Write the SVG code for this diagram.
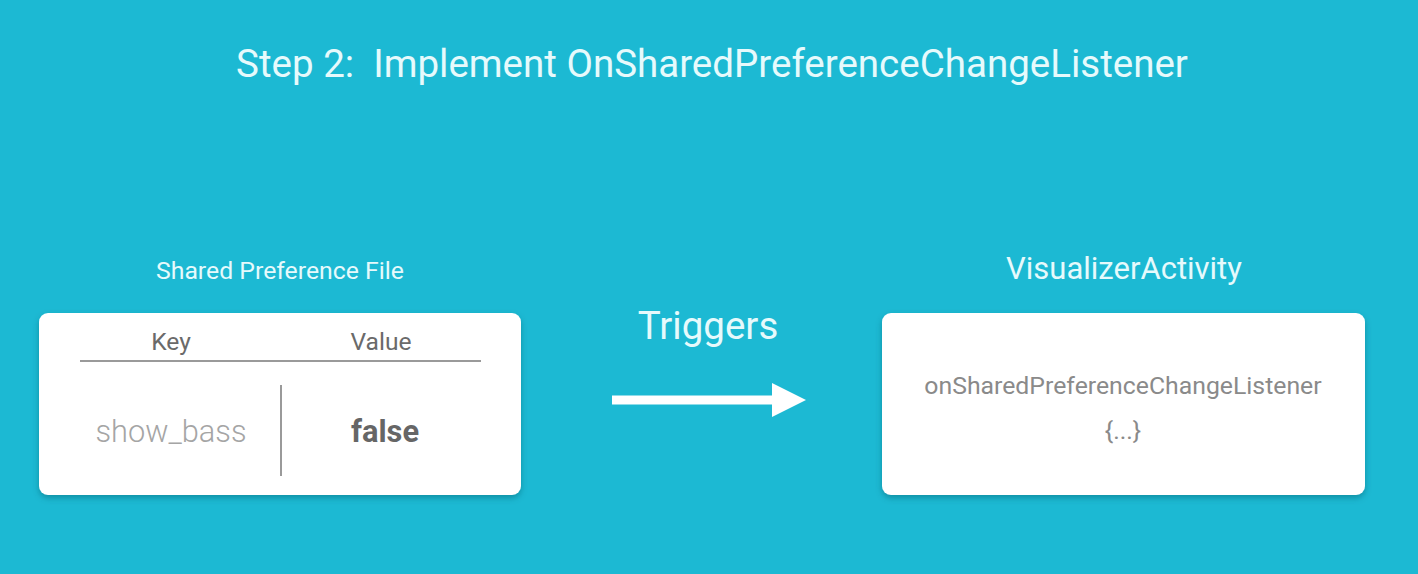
<svg xmlns="http://www.w3.org/2000/svg" width="1418" height="574" viewBox="0 0 1418 574">
<defs>
<style>
text{font-family:Roboto,"Liberation Sans",sans-serif}
.w{fill:#E6FAFC}
.card{fill:#fff}
.rule{stroke:#9a9a9a;stroke-width:2}
</style>
<filter id="sh" x="-10%" y="-10%" width="120%" height="130%">
<feDropShadow dx="0" dy="3" stdDeviation="3" flood-color="#0a5a68" flood-opacity="0.45"/>
</filter>
</defs>
<rect width="1418" height="574" fill="#1CB9D3"/>
<text x="712" y="77" font-size="38.5" text-anchor="middle" class="w" xml:space="preserve">Step 2:  Implement OnSharedPreferenceChangeListener</text>
<g id="shared-pref">
<text x="280" y="279" font-size="24.8" text-anchor="middle" class="w">Shared Preference File</text>
<rect x="39" y="313" width="482" height="182" rx="9" class="card" filter="url(#sh)"/>
<text x="171" y="350" font-size="24.6" text-anchor="middle" fill="#6a6a6a">Key</text>
<text x="381" y="350" font-size="24.6" text-anchor="middle" fill="#6a6a6a">Value</text>
<line x1="80" y1="361" x2="481" y2="361" class="rule"/>
<line x1="281" y1="385" x2="281" y2="476" class="rule"/>
<text x="171" y="442" font-size="30.8" text-anchor="middle" fill="#a5a5a5" font-weight="300">show_bass</text>
<text x="385" y="442" font-size="30.8" text-anchor="middle" fill="#666" font-weight="bold">false</text>
</g>
<g id="connectors">
<text x="708" y="339" font-size="38.5" text-anchor="middle" class="w">Triggers</text>
<line x1="612" y1="400" x2="776" y2="400" stroke="#fff" stroke-width="9"/>
<polygon points="772,383 806,400 772,417" fill="#fff"/>
</g>
<g id="visualizer">
<text x="1124" y="279" font-size="31" text-anchor="middle" class="w">VisualizerActivity</text>
<rect x="882" y="313" width="483" height="182" rx="9" class="card" filter="url(#sh)"/>
<text x="1123" y="394" font-size="24.8" text-anchor="middle" fill="#8a8a8a">onSharedPreferenceChangeListener</text>
<text x="1123" y="439" font-size="24.8" text-anchor="middle" fill="#8a8a8a">{...}</text>
</g>
</svg>
